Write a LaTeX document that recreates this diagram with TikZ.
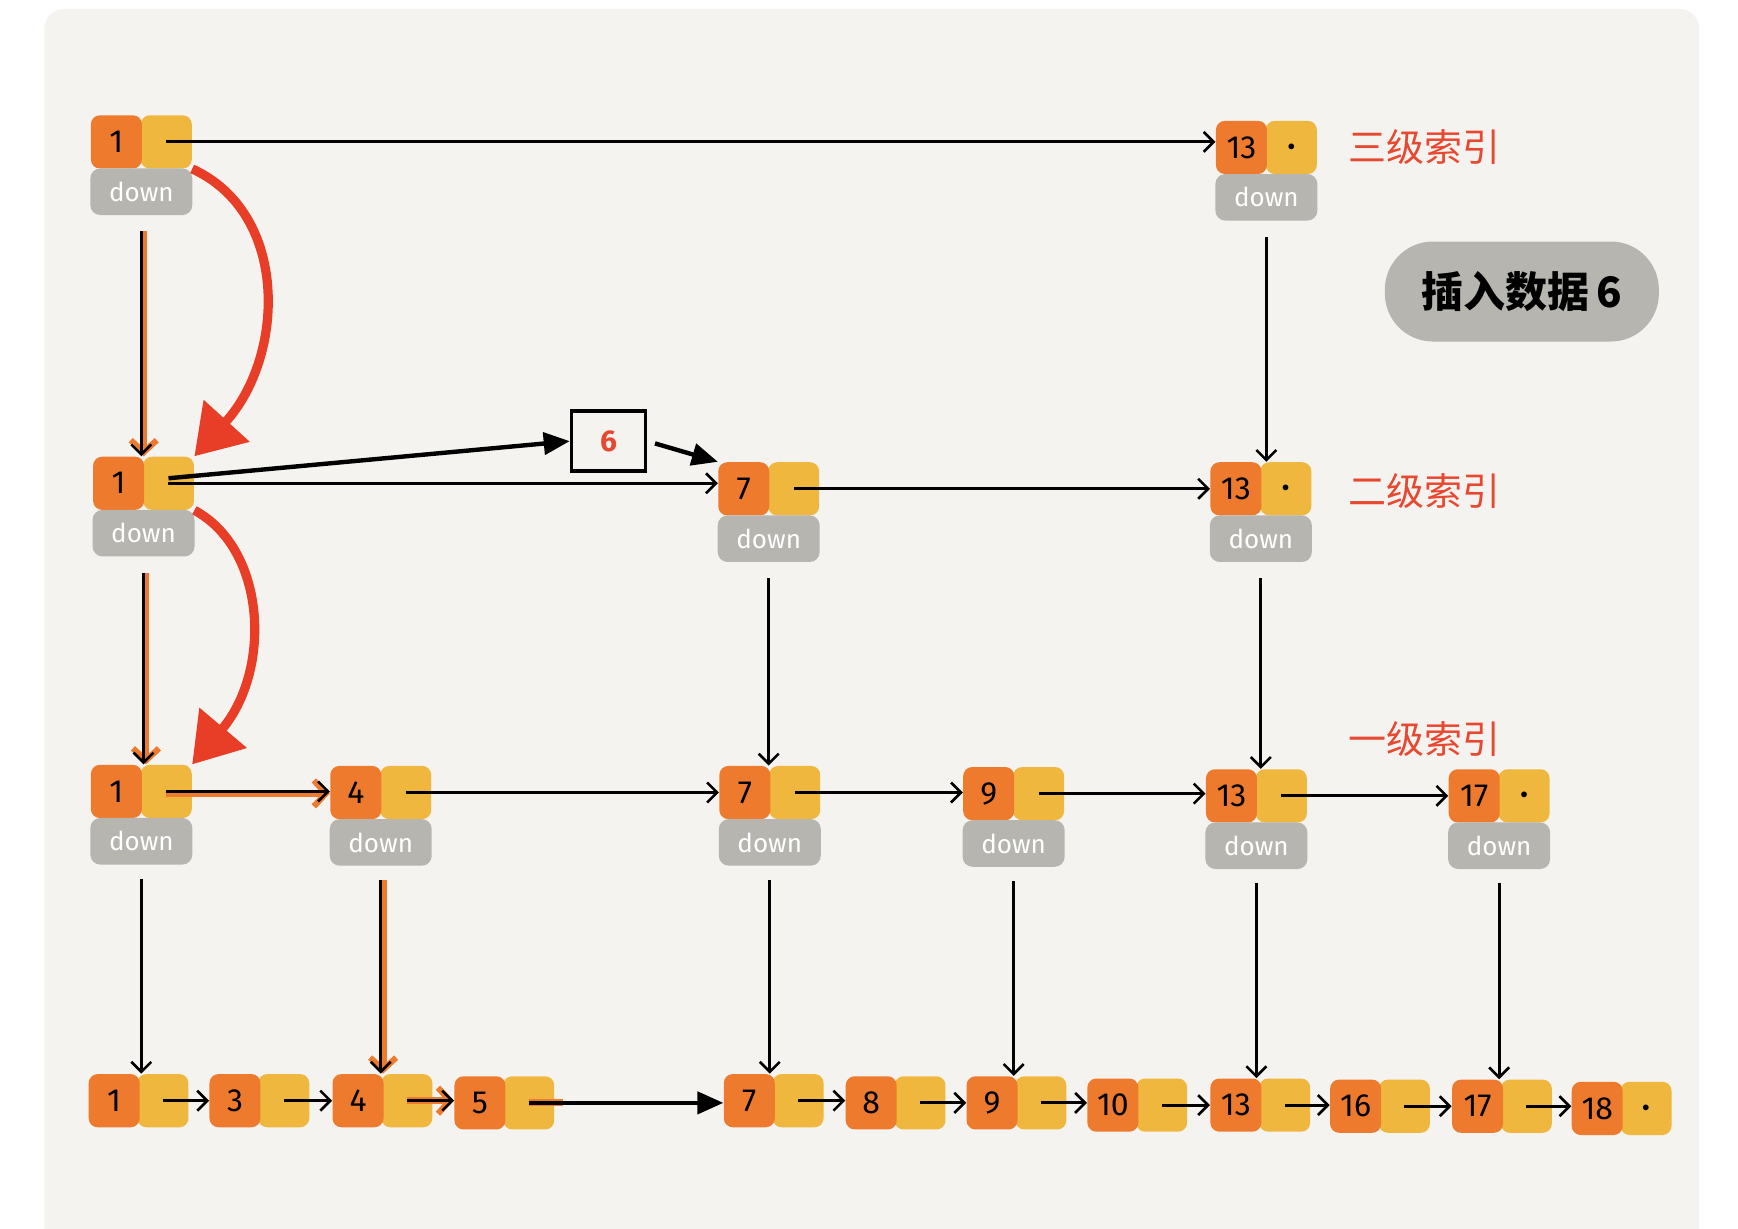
\documentclass[tikz,border=0pt]{standalone}
\usepackage{fontspec}
\setsansfont{Fira Sans}
\newfontfamily\cjk{Noto Sans CJK SC}
\usetikzlibrary{arrows.meta,positioning}

\definecolor{numorange}{RGB}{237,122,45}
\definecolor{nextyellow}{RGB}{240,183,62}
\definecolor{downgray}{RGB}{182,181,176}
\definecolor{jumpred}{RGB}{232,62,40}
\definecolor{labelred}{RGB}{233,72,48}
\definecolor{panelbg}{RGB}{244,243,240}

\tikzset{
  numcell/.style={fill=numorange, rounded corners=4.5pt, minimum width=25.5pt,
    minimum height=26.6pt, inner sep=0pt, font=\sffamily\fontsize{16}{16}\selectfont},
  nextcell/.style={fill=nextyellow, rounded corners=4.5pt, minimum width=25.5pt,
    minimum height=26.6pt, inner sep=0pt, font=\fontsize{10}{10}\selectfont},
  downcell/.style={fill=downgray, rounded corners=5pt, minimum width=51pt,
    minimum height=23.3pt, inner sep=0pt, text=white, font=\sffamily\fontsize{13}{13}\selectfont},
  link/.style={draw=black, line width=1.4pt, -{Straight Barb[length=5pt,width=10pt,line width=1.3pt]}},
  boldlink/.style={draw=black, line width=2.2pt, -{Triangle[length=13pt,width=11pt]}},
  hl/.style={draw=numorange, line width=3.5pt, -{Straight Barb[length=6pt,width=13pt,line width=3pt]}},
  jump/.style={draw=jumpred, line width=4.6pt, -{Triangle[length=24pt,width=30pt]}},
  level/.style={text=labelred, font=\cjk\fontsize{19}{19}\selectfont},
  blob/.style={fill=downgray, rounded corners=24pt, minimum width=137pt, minimum height=50pt,
    font=\cjk\bfseries\fontsize{21}{21}\selectfont},
  newbox/.style={draw=black, line width=1.8pt, minimum width=37pt, minimum height=30pt,
    inner sep=0pt, text=labelred, font=\sffamily\bfseries\fontsize{15}{15}\selectfont},
}

% index node: name, x, y, key, tail
\newcommand\skipidx[5]{%
  \node[nextcell] (#1n) at (#2+45,#3) {#5};
  \node[numcell] (#1) at (#2,#3) {#4};
  \node[downcell] (#1d) at (#2+22.5,#3+45) {down};
}
% base list node: name, x, y, key, tail
\newcommand\skipbase[5]{%
  \node[nextcell] (#1n) at (#2+44,#3) {#5};
  \node[numcell] (#1) at (#2,#3) {#4};
}

\begin{document}
\begin{tikzpicture}[x=0.5542pt,y=-0.5542pt]
  \useasboundingbox (0,0) rectangle (1568,1108);
  \fill[white] (0,0) rectangle (1568,1108);
  \fill[panelbg, rounded corners=10pt] (40,8) rectangle (1533,1140);

  % third level
  \skipidx{t1}{105}{128}{1}{}
  \skipidx{t13}{1120}{133}{13}{\textbullet}
  % second level
  \skipidx{s1}{107}{436}{1}{}
  \skipidx{s7}{671}{441}{7}{}
  \skipidx{s13}{1115}{441}{13}{\textbullet}
  % first level
  \skipidx{f1}{105}{714}{1}{}
  \skipidx{f4}{321}{715}{4}{}
  \skipidx{f7}{672}{715}{7}{}
  \skipidx{f9}{892}{716}{9}{}
  \skipidx{f13}{1111}{718}{13}{}
  \skipidx{f17}{1330}{718}{17}{\textbullet}
  % original list
  \skipbase{b1}{103}{993}{1}{}
  \skipbase{b3}{212}{993}{3}{}
  \skipbase{b4}{323}{993}{4}{}
  \skipbase{b5}{433}{995}{5}{}
  \skipbase{b7}{676}{993}{7}{}
  \skipbase{b8}{786}{995}{8}{}
  \skipbase{b9}{895}{995}{9}{}
  \skipbase{b10}{1004}{997}{10}{}
  \skipbase{b13}{1115}{997}{13}{}
  \skipbase{b16}{1223}{998}{16}{}
  \skipbase{b17}{1333}{998}{17}{}
  \skipbase{b18}{1441}{1000}{18}{\textbullet}

  \node[level] (lv3) at (1285,133) {三级索引};
  \node[level] (lv2) at (1285,443) {二级索引};
  \node[level] (lv1) at (1285,667) {一级索引};
  \node[blob] (insert) at (1373,263) {插入数据\,6};
  \node[newbox] (six) at (549,398) {6};

  % search path highlight
  \draw[hl,shorten <=8pt] ([xshift=1.2pt]t1d.south) -- ([xshift=1.2pt]t1d.south |- s1.north);
  \draw[hl,shorten <=8pt] ([xshift=1.2pt]s1d.south) -- ([xshift=1.2pt]s1d.south |- f1.north);
  \draw[hl] ([yshift=-1pt]f1n.center) -- ([yshift=-1pt]f1n.center -| f4.west);
  \draw[hl,shorten <=7pt] ([xshift=1.2pt]f4d.south) -- ([xshift=1.2pt]f4d.south |- b4.north);
  \draw[hl] (b4n.center) -- (b4n.center -| b5.west);
  \draw[draw=numorange,line width=3.5pt] (b5n.center) -- ([xshift=4pt]b5n.east);

  % level 3
  \draw[link] (t1n.center) -- (t1n.center -| t13.west);
  \draw[link,shorten <=8pt] (t1d.south) -- (t1d.south |- s1.north);
  \draw[link,shorten <=8pt] (t13d.south) -- (t13d.south |- s13.north);
  \draw[jump] (t1n.south east) .. controls +(88,40) and +(82,-90) .. (s1n.north east);
  % level 2
  \draw[link] (s1n.center) -- (s1n.center -| s7.west);
  \draw[boldlink] ([yshift=2.5pt]s1n.center) -- (six.west);
  \draw[boldlink,shorten <=4pt] (six.east) -- (s7.north west);
  \draw[link] (s7n.center) -- (s7n.center -| s13.west);
  \draw[link,shorten <=8pt] (s1d.south) -- (s1d.south |- f1.north);
  \draw[link,shorten <=8pt] (s7d.south) -- (s7d.south |- f7.north);
  \draw[link,shorten <=8pt] (s13d.south) -- (s13d.south |- f13.north);
  \draw[jump] (s1n.south east) .. controls +(65,35) and +(72,-85) .. (f1n.north east);
  % level 1
  \draw[link] (f1n.center) -- (f1n.center -| f4.west);
  \draw[link] (f4n.center) -- (f4n.center -| f7.west);
  \draw[link] (f7n.center) -- (f7n.center -| f9.west);
  \draw[link] (f9n.center) -- (f9n.center -| f13.west);
  \draw[link] (f13n.center) -- (f13n.center -| f17.west);
  \draw[link,shorten <=7pt] (f1d.south) -- (f1d.south |- b1.north);
  \draw[link,shorten <=7pt] (f4d.south) -- (f4d.south |- b4.north);
  \draw[link,shorten <=7pt] (f7d.south) -- (f7d.south |- b7.north);
  \draw[link,shorten <=7pt] (f9d.south) -- (f9d.south |- b9.north);
  \draw[link,shorten <=7pt] (f13d.south) -- (f13d.south |- b13.north);
  \draw[link,shorten <=7pt] (f17d.south) -- (f17d.south |- b17.north);
  % original list
  \draw[link] (b1n.center) -- (b1n.center -| b3.west);
  \draw[link] (b3n.center) -- (b3n.center -| b4.west);
  \draw[link] (b4n.center) -- (b4n.center -| b5.west);
  \draw[boldlink] (b5n.center) -- (b5n.center -| b7.west);
  \draw[link] (b7n.center) -- (b7n.center -| b8.west);
  \draw[link] (b8n.center) -- (b8n.center -| b9.west);
  \draw[link] (b9n.center) -- (b9n.center -| b10.west);
  \draw[link] (b10n.center) -- (b10n.center -| b13.west);
  \draw[link] (b13n.center) -- (b13n.center -| b16.west);
  \draw[link] (b16n.center) -- (b16n.center -| b17.west);
  \draw[link] (b17n.center) -- (b17n.center -| b18.west);
\end{tikzpicture}
\end{document}
